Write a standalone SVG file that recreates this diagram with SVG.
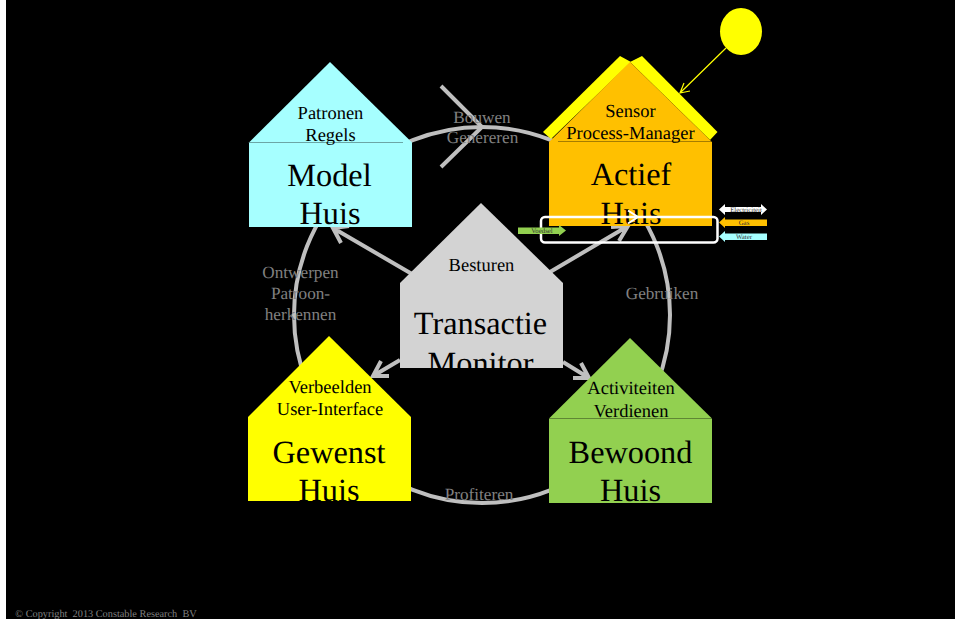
<svg xmlns="http://www.w3.org/2000/svg" width="955" height="619" viewBox="0 0 955 619">
<style>
text{font-family:"Liberation Serif","Times New Roman",serif;text-anchor:middle;fill:#000;text-rendering:geometricPrecision;white-space:pre}
.s{font-size:18.500px}.b{font-size:32.300px}.g{font-size:17.200px;fill:#808080}.t{font-size:6.800px;fill:#333}
.l{fill:none;stroke:#bfbfbf;stroke-width:4}
.r{stroke:#000;stroke-opacity:.35;stroke-width:1}
</style>
<defs>
<clipPath id="c1"><rect x="249" y="60" width="163" height="167"/></clipPath>
<clipPath id="c2"><rect x="549" y="60" width="163" height="166"/></clipPath>
<clipPath id="c3"><rect x="400" y="200" width="163" height="168"/></clipPath>
<clipPath id="c4"><rect x="248" y="330" width="163" height="171"/></clipPath>
<clipPath id="c5"><rect x="549" y="330" width="163" height="173"/></clipPath>
</defs>
<rect width="955" height="619" fill="#000"/>
<rect width="6" height="619" fill="#fff"/>
<g id="connectors">
<circle class="l" cx="482" cy="315" r="188"/>
<path class="l" d="M412 274L333 228M349 226L333 228L341 243"/>
<path class="l" d="M550 272L628 226M611 227L628 226L619 241"/>
<path class="l" d="M400 360L373 376M389 376L373 376L381 361"/>
<path class="l" d="M563 362L589 378M573 378L589 378L581 363"/>
<path class="l" d="M441 86L482 127L441 167"/>
</g>
<g id="model-huis"><path fill="#a6ffff" d="M249 142.500L330 62L412 142.500V227H249Z"/><path class="r" d="M249 142.500H403"/>
<g clip-path="url(#c1)"><text class="s" x="330.500" y="119">Patronen</text><text class="s" x="330.500" y="141">Regels</text><text class="b" x="329.500" y="186">Model</text><text class="b" x="330" y="224">Huis</text></g></g>
<g id="actief-huis"><path fill="#ff0" d="M551 139L631 62L620 56L543 132Z"/><path fill="#ff0" d="M710 140L630 62L642 56L717.500 132Z"/><path fill="#ffc000" d="M549 142L630 62L712 142V226H549Z"/><path class="r" d="M558 141.500H712"/>
<g clip-path="url(#c2)"><text class="s" x="630.500" y="117">Sensor</text><text class="s" x="630.500" y="139">Process-Manager</text><text class="b" x="631" y="185">Actief</text><text class="b" x="631" y="224">Huis</text></g></g>
<g id="transactie-monitor"><path fill="#d3d3d3" d="M400 283L481 203L563 283V368H400Z"/>
<g clip-path="url(#c3)"><text class="s" x="481.500" y="271">Besturen</text><text class="b" x="480.500" y="334">Transactie</text><text class="b" x="480.500" y="374">Monitor</text></g></g>
<g id="gewenst-huis"><path fill="#ff0" d="M248 417L329 336L411 417V501H248Z"/>
<g clip-path="url(#c4)"><text class="s" x="330" y="393">Verbeelden</text><text class="s" x="330" y="415">User-Interface</text><text class="b" x="329" y="463">Gewenst</text><text class="b" x="329" y="501">Huis</text></g></g>
<g id="bewoond-huis"><path fill="#92d050" d="M549 418.500L630 338L712 418.500V503H549Z"/><path class="r" d="M549 418.500H712"/>
<g clip-path="url(#c5)"><text class="s" x="631" y="394">Activiteiten</text><text class="s" x="631" y="417">Verdienen</text><text class="b" x="630.500" y="463">Bewoond</text><text class="b" x="630.500" y="501">Huis</text></g></g>
<g id="labels">
<text class="g" x="482" y="123">Bouwen</text><text class="g" x="482.500" y="143">Genereren</text>
<text class="g" x="300.500" y="278">Ontwerpen</text><text class="g" x="300.500" y="299">Patroon-</text><text class="g" x="300.500" y="320">herkennen</text>
<text class="g" x="662" y="299">Gebruiken</text>
<text class="g" x="479" y="500">Profiteren</text>
</g>
<g id="sun"><ellipse cx="741" cy="31.500" rx="21" ry="23.500" fill="#ff0"/><path d="M726 48L680 93M684 83L680 93L690 91" fill="none" stroke="#ff0" stroke-width="1.200"/></g>
<g id="meter-frame"><rect x="541" y="217" width="176.500" height="25.500" rx="4" fill="none" stroke="#fff" stroke-width="2.500"/><path d="M628 210.500L638 217L628 223.500" fill="none" stroke="#fff" stroke-width="2"/></g>
<g id="elektriciteit"><path fill="#fff" d="M719 209.500L725 204V207H761V204L767 209.500L761 215V212H725V215Z"/><text class="t" x="746" y="212">Electriciteit</text></g>
<g id="gas"><path fill="#ffc000" d="M719 222.500L725 217V219.500H767V226H725V228Z"/><text class="t" x="744" y="225">Gas</text></g>
<g id="water"><path fill="#a6ffff" d="M719 236.500L725 231V233.500H767V240H725V242Z"/><text class="t" x="744" y="238.500">Water</text></g>
<g id="voedsel"><path fill="#92d050" d="M518 227.500H559V225L566 230.500L559 236V234H518Z"/><text class="t" x="542" y="233">Voedsel</text></g>
<text x="106" y="617" style="font-size:10.300px;fill:#808080">© Copyright  2013 Constable Research  BV</text>
</svg>
